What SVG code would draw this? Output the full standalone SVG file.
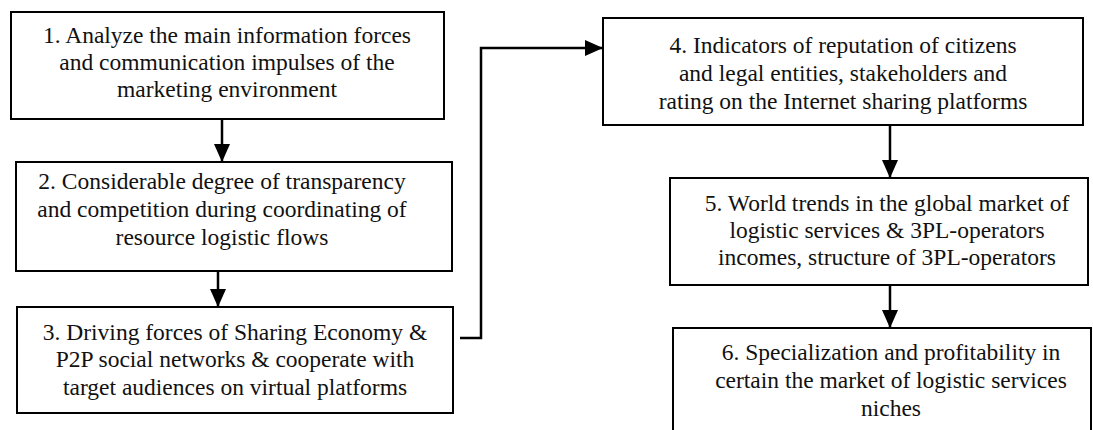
<svg xmlns="http://www.w3.org/2000/svg" width="1093" height="430" viewBox="0 0 1093 430">
<style>
.box{fill:#fff;stroke:#000;stroke-width:2}
.t{font-family:"Liberation Serif","Times New Roman",serif;font-size:23.5px;fill:#111;text-anchor:middle}
.c{fill:none;stroke:#000;stroke-width:2.5}
</style>
<defs>
<marker id="ah" markerUnits="userSpaceOnUse" markerWidth="18" markerHeight="16" viewBox="0 0 18 16" refX="17" refY="8" orient="auto">
<path d="M0,0 L18,8 L0,16 Z" fill="#000"/>
</marker>
</defs>
<rect width="1093" height="430" fill="#fff"/>
<g id="connectors">
<line class="c" x1="222" y1="120" x2="222" y2="161" marker-end="url(#ah)"/>
<line class="c" x1="218" y1="272" x2="218" y2="306" marker-end="url(#ah)"/>
<polyline class="c" points="460,338 481,338 481,48 602,48" marker-end="url(#ah)"/>
<line class="c" x1="890" y1="126" x2="890" y2="177" marker-end="url(#ah)"/>
<line class="c" x1="890" y1="286" x2="890" y2="327" marker-end="url(#ah)"/>
</g>
<g id="node1">
<rect class="box" x="11" y="12" width="433" height="107"/>
<text class="t" x="227" y="43">1. Analyze the main information forces</text>
<text class="t" x="227" y="70">and communication impulses of the</text>
<text class="t" x="227" y="97">marketing environment</text>
</g>
<g id="node2">
<rect class="box" x="16" y="162" width="436" height="109"/>
<text class="t" x="222" y="189">2. Considerable degree of transparency</text>
<text class="t" x="222" y="217">and competition during coordinating of</text>
<text class="t" x="222" y="245">resource logistic flows</text>
</g>
<g id="node3">
<rect class="box" x="17" y="307" width="436" height="106"/>
<text class="t" x="235" y="340">3. Driving forces of Sharing Economy &amp;</text>
<text class="t" x="235" y="367">P2P social networks &amp; cooperate with</text>
<text class="t" x="235" y="395">target audiences on virtual platforms</text>
</g>
<g id="node4">
<rect class="box" x="603" y="18" width="480" height="107"/>
<text class="t" x="843" y="53">4. Indicators of reputation of citizens</text>
<text class="t" x="843" y="81">and legal entities, stakeholders and</text>
<text class="t" x="843" y="109">rating on the Internet sharing platforms</text>
</g>
<g id="node5">
<rect class="box" x="670" y="178" width="418" height="107"/>
<text class="t" x="887" y="211">5. World trends in the global market of</text>
<text class="t" x="887" y="238">logistic services &amp; 3PL-operators</text>
<text class="t" x="887" y="265">incomes, structure of 3PL-operators</text>
</g>
<g id="node6">
<rect class="box" x="673" y="328" width="418" height="110"/>
<text class="t" x="891" y="360">6. Specialization and profitability in</text>
<text class="t" x="891" y="388">certain the market of logistic services</text>
<text class="t" x="891" y="416">niches</text>
</g>
</svg>
